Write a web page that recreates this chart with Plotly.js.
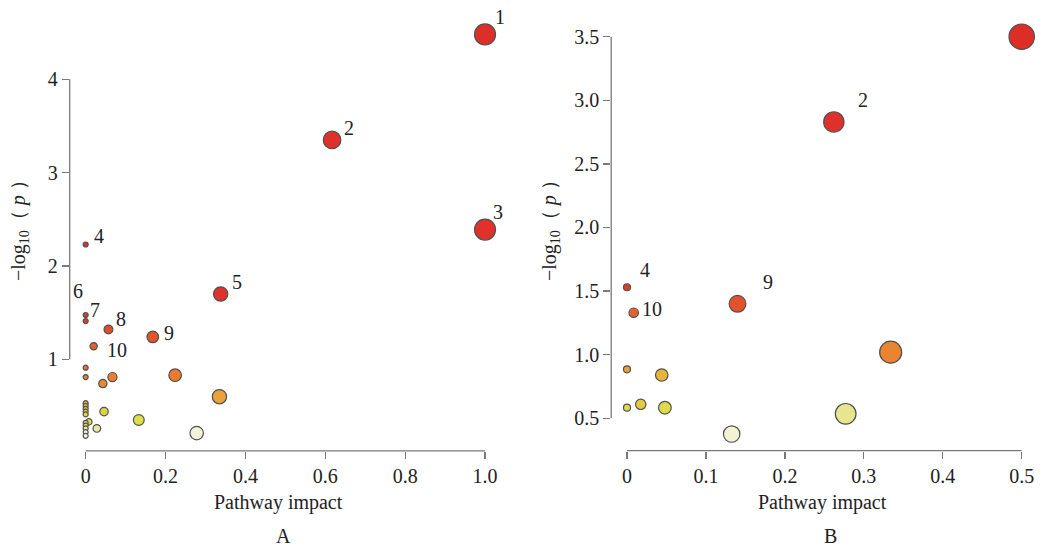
<!DOCTYPE html>
<html>
<head>
<meta charset="utf-8">
<script src="https://cdn.plot.ly/plotly-3.0.1.min.js"></script>
<style>html,body{margin:0;padding:0;background:#fff;}#chart{width:1047px;height:549px;}</style>
</head>
<body>
<div id="chart"></div>
<script>
// ---------- Panel A data ----------
const impactA = [1.0, 0.617, 1.0, 0, 0.338, 0, 0, 0.057, 0.168, 0.020,
                 0, 0, 0.043, 0.067, 0.224, 0.335, 0.046, 0.133, 0.278, 0.028, 0.008,
                 0, 0, 0, 0, 0, 0, 0, 0, 0, 0];
const logpA = [4.48, 3.35, 2.39, 2.23, 1.70, 1.475, 1.41, 1.32, 1.24, 1.14,
               0.91, 0.81, 0.74, 0.81, 0.83, 0.60, 0.44, 0.35, 0.21, 0.26, 0.33,
               0.53, 0.50, 0.47, 0.44, 0.41, 0.32, 0.29, 0.26, 0.22, 0.18];
const labelsA = ['1','2','3','4','5','6','7','8','9','10'];
const xTicksA = [0, 0.2, 0.4, 0.6, 0.8, 1.0];
const xTickTextA = ['0', '0.2', '0.4', '0.6', '0.8', '1.0'];
const yTicksA = [1, 2, 3, 4];
const yTickTextA = ['1', '2', '3', '4'];

// ---------- Panel B data ----------
const impactB = [0.5, 0.262, 0, 0.140, 0.0085, 0.334, 0, 0.044, 0, 0.0174, 0.048, 0.277, 0.1326];
const logpB = [3.50, 2.83, 1.53, 1.40, 1.33, 1.02, 0.885, 0.84, 0.583, 0.61, 0.583, 0.535, 0.376];
const labelsB = ['', '2', '4', '9', '10'];
const xTicksB = [0, 0.1, 0.2, 0.3, 0.4, 0.5];
const xTickTextB = ['0', '0.1', '0.2', '0.3', '0.4', '0.5'];
const yTicksB = [0.5, 1.0, 1.5, 2.0, 2.5, 3.0, 3.5];
const yTickTextB = ['0.5', '1.0', '1.5', '2.0', '2.5', '3.0', '3.5'];

// ---------- styles ----------
const W = 1047, H = 549;
const FONT = 'Liberation Serif';
const AXC = '#7a7a7a';
// colour stops (value on -log10 p, colour)
const stopsA = [[0.18,'#f7f7ee'],[0.22,'#f1f1d6'],[0.26,'#e9e9a4'],[0.30,'#e2e264'],[0.35,'#dede4a'],
  [0.44,'#dcd444'],[0.50,'#e6bc42'],[0.53,'#e8a83c'],[0.60,'#eba23a'],[0.74,'#ec8a33'],[0.83,'#e97a30'],
  [0.91,'#e7702e'],[1.14,'#e4602c'],[1.24,'#e3542a'],[1.32,'#e24c28'],[1.41,'#e03c26'],[1.70,'#e0322a'],[4.48,'#de2e28']];
const stopsB = [[0.37,'#f3f3d6'],[0.535,'#e6e68e'],[0.58,'#dcdc4c'],[0.61,'#e2cc42'],[0.84,'#e9b43e'],
  [0.88,'#eba23a'],[1.02,'#ea8430'],[1.33,'#e6622c'],[1.40,'#e3522a'],[1.53,'#e03c28'],[2.83,'#e0302a'],[3.5,'#dd2e26']];
function scale(stops){
  const lo = stops[0][0], hi = stops[stops.length-1][0];
  return {cs: stops.map(s => [(s[0]-lo)/(hi-lo), s[1]]), lo: lo, hi: hi};
}
const sA = scale(stopsA), sB = scale(stopsB);
const sizeA = impactA.map(v => 5 + 16*Math.sqrt(v));
const sizeB = impactB.map(v => 7 + 26*Math.sqrt(v));

// label offsets (px) relative to the point
const offA = [[15,17.5],[16.5,12],[13,17.6],[13.6,8.5],[16,11.5],[-8,24],[9.3,11.5],[12.2,10.4],[16.2,4],[23.6,-4]];
const offB = [[0,0],[29.5,21.5],[18,17],[30.8,22],[18,3.4]];

const traceA = {
  type:'scatter', mode:'markers', x: impactA, y: logpA, xaxis:'x', yaxis:'y', cliponaxis:false,
  marker:{size:sizeA, color:logpA, colorscale:sA.cs, cmin:sA.lo, cmax:sA.hi, showscale:false,
          line:{color:'#505050', width:1.2}, opacity:1},
  hoverinfo:'x+y'
};
const traceB = {
  type:'scatter', mode:'markers', x: impactB, y: logpB, xaxis:'x2', yaxis:'y2', cliponaxis:false,
  marker:{size:sizeB, color:logpB, colorscale:sB.cs, cmin:sB.lo, cmax:sB.hi, showscale:false,
          line:{color:'#505050', width:1.2}, opacity:1},
  hoverinfo:'x+y'
};

const px = v => v / W;
const py = v => 1 - v / H;

function axis(domain, range, tv, tt, anchor){
  return {domain: domain, range: range, tickvals: tv, ticktext: tt, ticks:'outside', ticklen:7,
    tickwidth:1.3, tickcolor:AXC, showgrid:false, zeroline:false, showline:false, anchor: anchor,
    tickfont:{family:FONT, size:20, color:'#222'}, fixedrange:true};
}

const annotations = [];
labelsA.forEach((t, i) => {
  if (!t) return;
  annotations.push({xref:'x', yref:'y', x: impactA[i], y: logpA[i], text: t, showarrow:false,
    xanchor:'center', yanchor:'middle', xshift: offA[i][0], yshift: offA[i][1],
    font:{family:FONT, size:20, color:'#222'}});
});
labelsB.forEach((t, i) => {
  if (!t) return;
  annotations.push({xref:'x2', yref:'y2', x: impactB[i], y: logpB[i], text: t, showarrow:false,
    xanchor:'center', yanchor:'middle', xshift: offB[i][0], yshift: offB[i][1],
    font:{family:FONT, size:20, color:'#222'}});
});
const txt = (text, x, y, angle) => ({xref:'paper', yref:'paper', x: px(x), y: py(y), text: text,
  showarrow:false, xanchor:'center', yanchor:'middle', textangle: angle || 0,
  font:{family:FONT, size:20, color:'#222'}});
annotations.push(txt('Pathway impact', 278, 502));
annotations.push(txt('Pathway impact', 822, 502));
annotations.push(txt('A', 283, 536));
annotations.push(txt('B', 830, 536));
annotations.push(txt('−log<sub>10</sub>（ <i>p</i> ）', 20, 226, -90));
annotations.push(txt('−log<sub>10</sub>（ <i>p</i> ）', 551, 226, -90));

const lineStyle = {color: AXC, width: 1.3};
const shapes = [
  {type:'line', xref:'x', yref:'y domain', x0:0, x1:1.0, y0:0, y1:0, line: lineStyle},
  {type:'line', xref:'x domain', yref:'y', x0:0, x1:0, y0:1, y1:4, line: lineStyle},
  {type:'line', xref:'x2', yref:'y2 domain', x0:0, x1:0.5, y0:0, y1:0, line: lineStyle},
  {type:'line', xref:'x2 domain', yref:'y2', x0:0, x1:0, y0:0.5, y1:3.5, line: lineStyle}
];

const layout = {
  width: W, height: H, margin:{l:0, r:0, t:0, b:0}, paper_bgcolor:'#fff', plot_bgcolor:'#fff',
  showlegend:false,
  xaxis: axis([px(69.7), px(501)], [-0.04, 1.04], xTicksA, xTickTextA, 'y'),
  yaxis: axis([py(450.8), py(18.6)], [0.02, 4.65], yTicksA, yTickTextA, 'x'),
  xaxis2: axis([px(611.2), px(1037.5)], [-0.02, 0.52], xTicksB, xTickTextB, 'y2'),
  yaxis2: axis([py(450.7), py(20.8)], [0.245, 3.625], yTicksB, yTickTextB, 'x2'),
  annotations: annotations, shapes: shapes
};

Plotly.newPlot('chart', [traceA, traceB], layout, {staticPlot:true, displayModeBar:false});
</script>
</body>
</html>
